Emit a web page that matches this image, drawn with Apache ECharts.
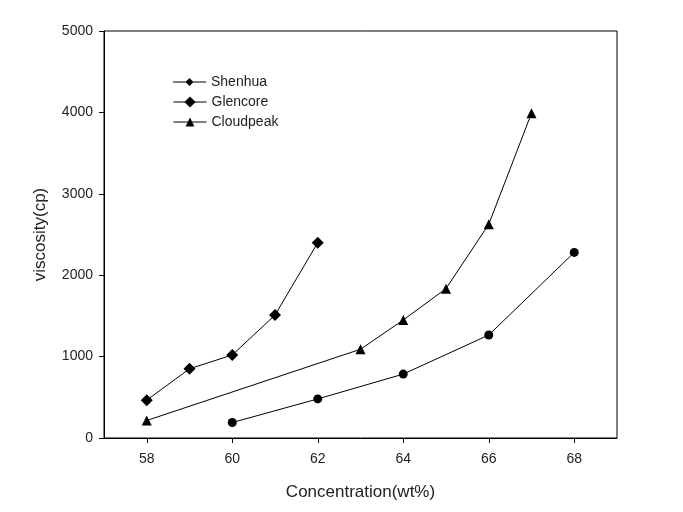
<!DOCTYPE html>
<html>
<head>
<meta charset="utf-8">
<script src="https://cdn.jsdelivr.net/npm/echarts@6/dist/echarts.min.js"></script>
<style>html,body{margin:0;padding:0;background:#fff;}#c{width:683px;height:512px;}</style>
</head>
<body>
<div id="c"></div>
<script>
const shenhuaX = [60, 62, 64, 66, 68];
const shenhuaY = [190, 480, 785, 1265, 2280];
const glencoreX = [58, 59, 60, 61, 62];
const glencoreY = [465, 850, 1020, 1510, 2400];
const cloudpeakX = [58, 63, 64, 65, 66, 67];
const cloudpeakY = [215, 1090, 1450, 1835, 2625, 3990];
const xTicks = [58, 60, 62, 64, 66, 68];
const yTicks = [0, 1000, 2000, 3000, 4000, 5000];

const pairs = (xs, ys) => xs.map((x, i) => [x, ys[i]]);
const font = 'Liberation Sans, Arial, sans-serif';
const chart = echarts.init(document.getElementById('c'));
const lineStyle = { color: '#000', width: 1 };
const legendText = { fontFamily: font, fontSize: 14, color: '#222' };
const shenhuaIcon = 'path://M0 4.5H33V5.5H0Z M16.5 1L20.5 5L16.5 9L12.5 5Z';
const mkLegend = (name, top, h, icon) => ({
  orient: 'vertical', left: 168, top: top, itemWidth: 33, itemHeight: h, itemGap: 8,
  lineStyle: { width: 1 },
  textStyle: legendText,
  data: [icon ? { name, icon } : name]
});
chart.setOption({
  animation: false,
  backgroundColor: '#fff',
  grid: { left: 104, top: 31, right: 66, bottom: 74, show: true, borderColor: '#000', borderWidth: 1 },
  legend: [
    mkLegend('Shenhua', 70, 8, shenhuaIcon),
    mkLegend('Glencore', 90, 14),
    mkLegend('Cloudpeak', 110, 11)
  ],
  xAxis: {
    type: 'value', min: 57, max: 69,
    name: 'Concentration(wt%)', nameLocation: 'middle', nameGap: 46,
    nameTextStyle: { fontFamily: font, fontSize: 17, color: '#222' },
    axisLine: { show: true, lineStyle: { color: '#000' } },
    axisTick: { show: true, length: 5, inside: false, customValues: xTicks, lineStyle: { color: '#000' } },
    axisLabel: { customValues: xTicks, fontFamily: font, fontSize: 14, color: '#222', margin: 14 },
    splitLine: { show: false }
  },
  yAxis: {
    type: 'value', min: 0, max: 5000, interval: 1000,
    name: 'viscosity(cp)', nameLocation: 'middle', nameGap: 55,
    nameTextStyle: { fontFamily: font, fontSize: 17, color: '#222' },
    axisLine: { show: true, lineStyle: { color: '#000' } },
    axisTick: { show: true, length: 5, inside: false, customValues: yTicks, lineStyle: { color: '#000' } },
    axisLabel: { customValues: yTicks, formatter: v => String(v), fontFamily: font, fontSize: 14, color: '#222', margin: 11 },
    splitLine: { show: false }
  },
  series: [
    { name: 'Shenhua', type: 'line', data: pairs(shenhuaX, shenhuaY), symbol: 'circle', symbolSize: 9,
      lineStyle, itemStyle: { color: '#000' } },
    { name: 'Glencore', type: 'line', data: pairs(glencoreX, glencoreY), symbol: 'diamond', symbolSize: 12,
      lineStyle, itemStyle: { color: '#000' } },
    { name: 'Cloudpeak', type: 'line', data: pairs(cloudpeakX, cloudpeakY), symbol: 'triangle', symbolSize: 10,
      lineStyle, itemStyle: { color: '#000' } }
  ]
});
</script>
</body>
</html>
